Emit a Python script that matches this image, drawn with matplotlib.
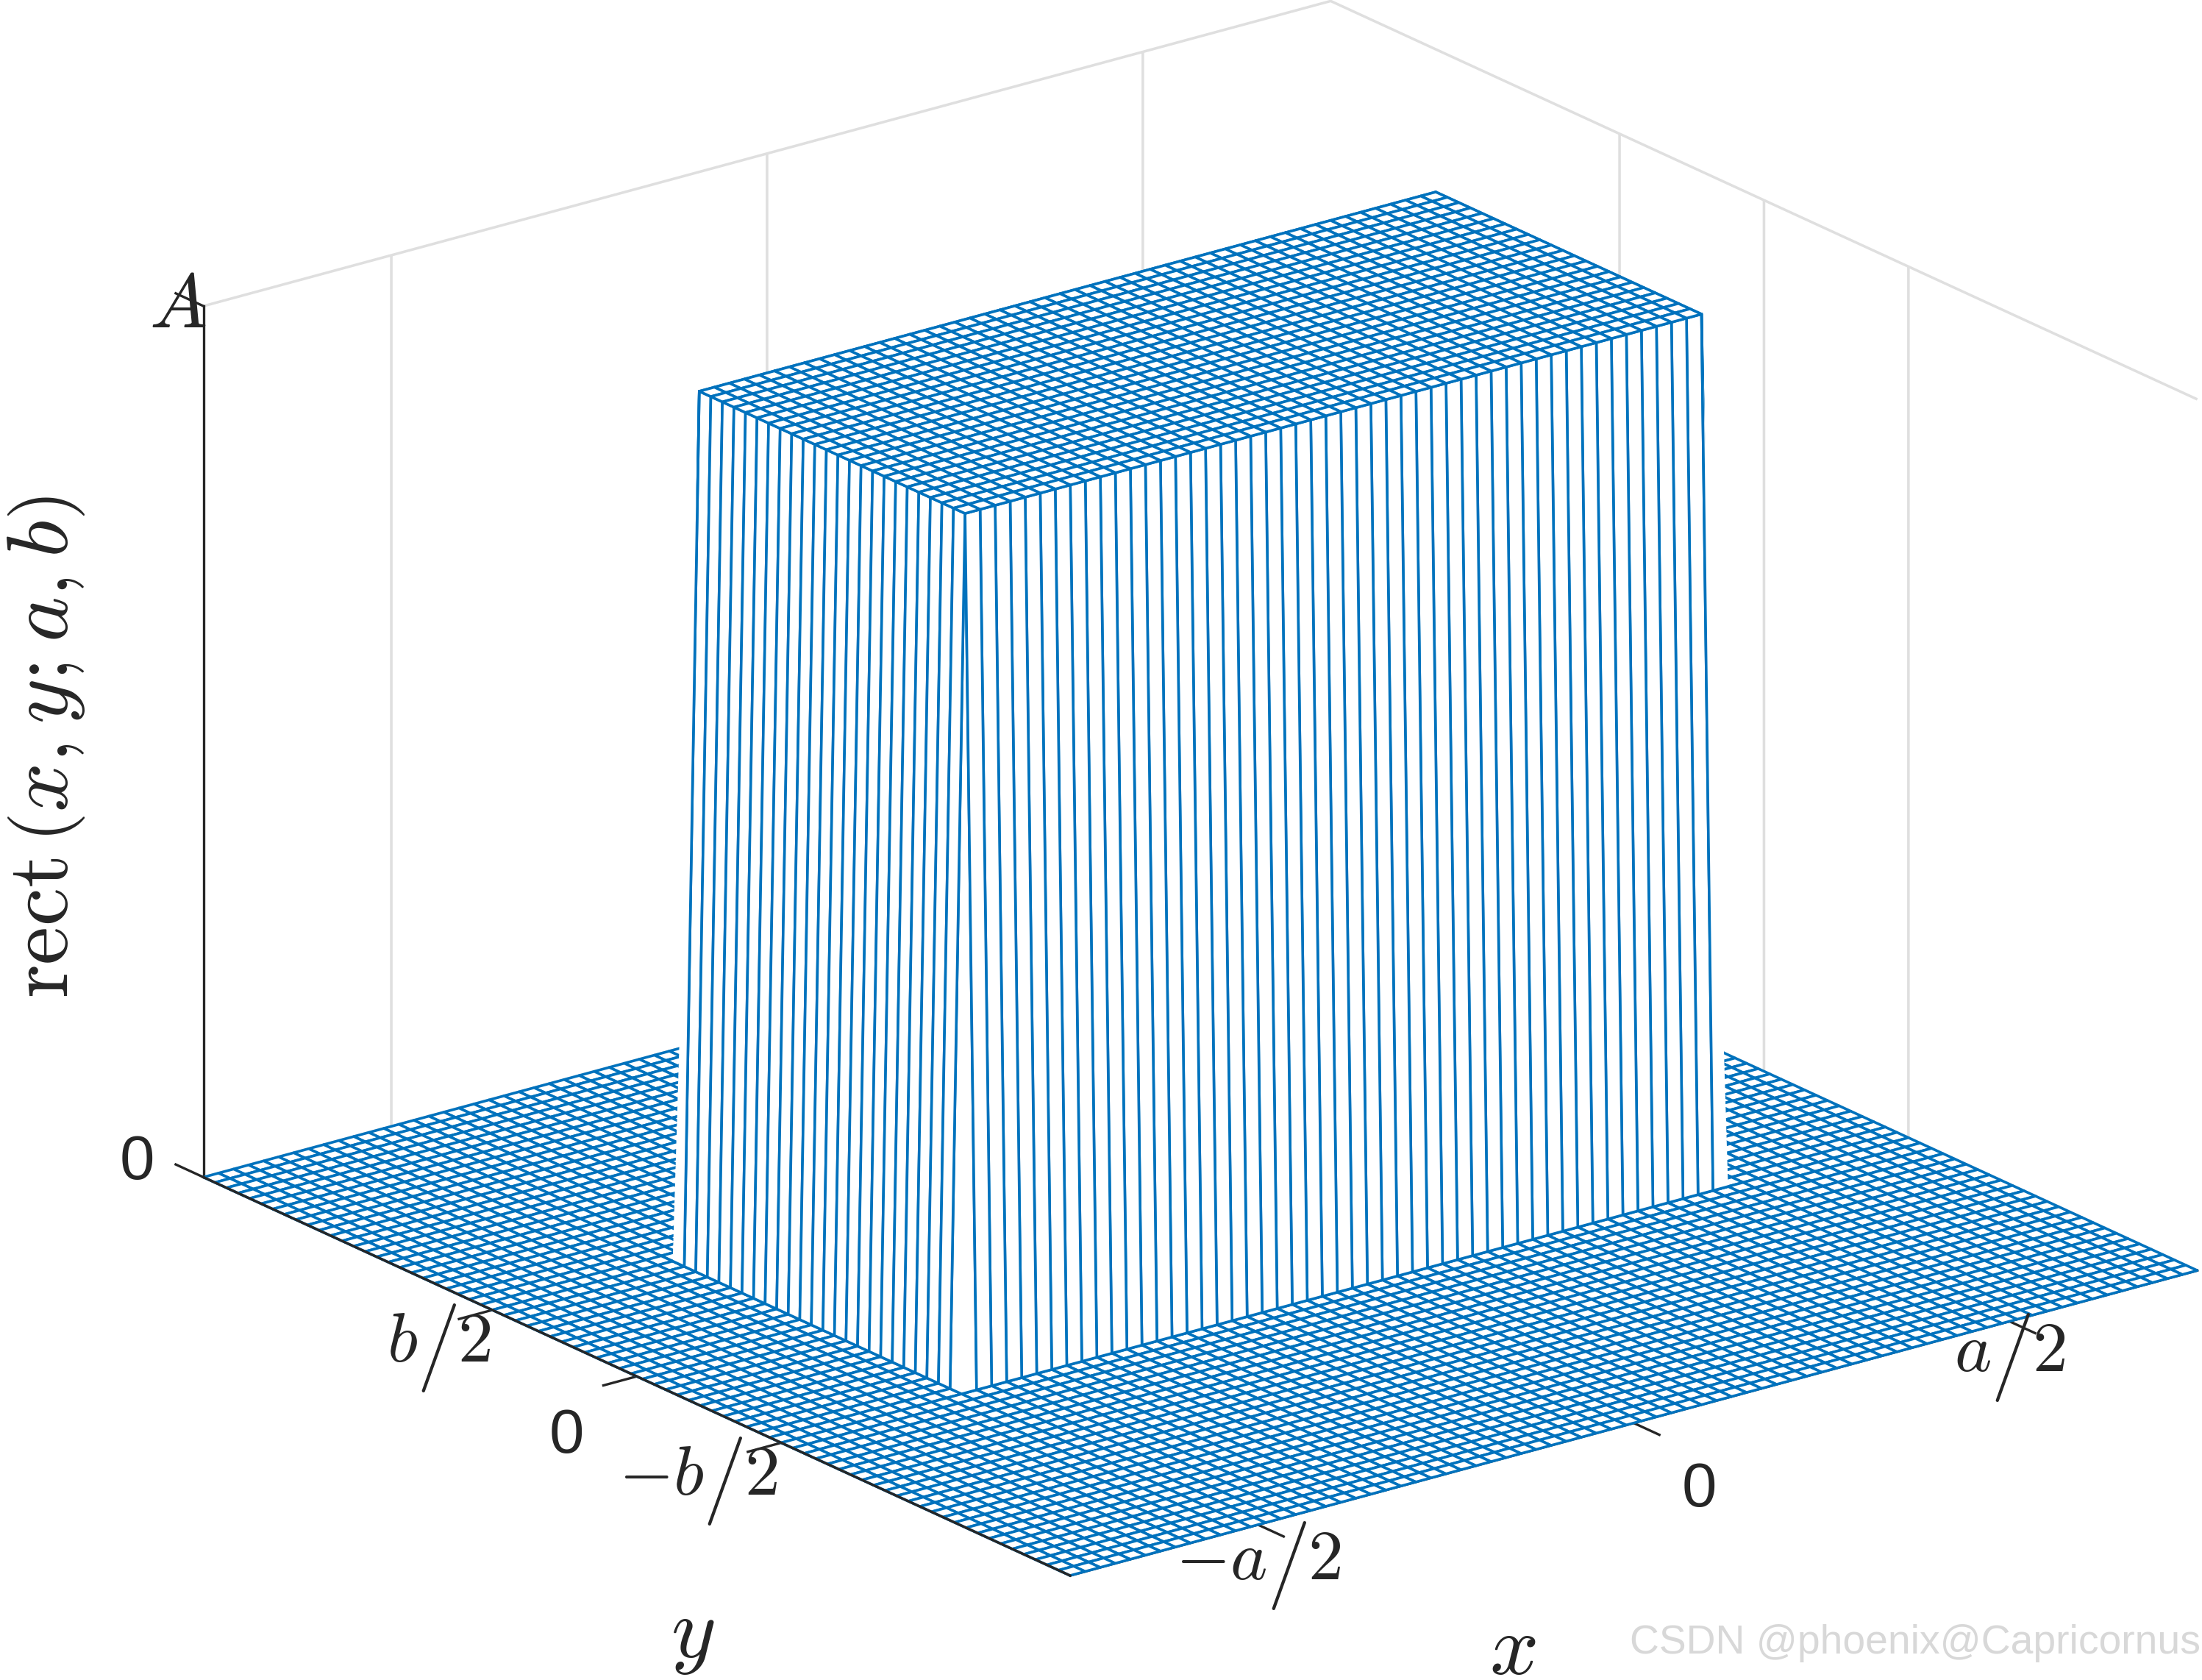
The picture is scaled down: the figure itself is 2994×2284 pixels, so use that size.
import numpy as np
import matplotlib
matplotlib.use('Agg')
import matplotlib.pyplot as plt
from mpl_toolkits.mplot3d import proj3d
from mpl_toolkits.mplot3d.art3d import Poly3DCollection

W, H, DPI = 2994, 2284, 300
INK = '#262626'
BLUE = '#0072BD'
GRID = '#dfdfdf'
MESH_LW = 0.86

plt.rcParams.update({
    'mathtext.fontset': 'cm',
    'font.family': ['Liberation Sans', 'DejaVu Sans'],
    'axes.linewidth': 0.8,
    'xtick.major.width': 0.8, 'ytick.major.width': 0.8,
    'xtick.color': INK, 'ytick.color': INK, 'axes.edgecolor': INK,
    'grid.color': GRID, 'grid.linewidth': 0.85,
})

# mesh levels (rows / columns at 0 or A)
x_min, x_max = -0.75, 0.75
y_min, y_max = -1.5, 1.5
z_min, z_max = 0.0, 1.0
x_profile = [0] * 13 + [1] * 50 + [0] * 13
y_profile = [0] * 26 + [1] * 24 + [0] * 26

x_ticks = [-0.5, 0.0, 0.5]
y_ticks = [-0.5, 0.0, 0.5]
z_ticks = [0.0, 1.0]
ROWS = r'\substack{\ \\\ \\\ \\\ \\\ }'
SLASH = r'\left/\genfrac{}{}{0}{0}{' + ROWS + '}{' + ROWS + r'}\right.\hspace{-0.5}'
x_labels = ['$-a' + SLASH + '2$', '0', '$a' + SLASH + '2$']
y_labels = ['$-b' + SLASH + '2$', '0', '$b' + SLASH + '2$']
z_labels = ['0', '$A$']

# label offsets from the tick root, in pixels (right, down)
x_off = [(0, 56), (89, 91), (0, 49)]
y_off = [(-113, 52), (-95, 82), (-73, 52)]
z_off = [(-90, -19), (-35, 2)]

fig = plt.figure(figsize=(W / DPI, H / DPI), dpi=DPI, facecolor='white')
S = 3400
ax = fig.add_axes([0, 0, S / W, S / H], projection='3d', proj_type='ortho')
ax.view_init(elev=20.65, azim=-127.5)
ax.computed_zorder = False
ax.patch.set_visible(False)
BOX = (1012, 1014, 663)
ax.set_box_aspect(BOX)

x = np.linspace(x_min, x_max, len(x_profile))
y = np.linspace(y_min, y_max, len(y_profile))
X, Y = np.meshgrid(x, y)
Z = z_max * np.outer(y_profile, x_profile)
ax.plot_surface(X, Y, Z, rstride=1, cstride=1, color='white', edgecolor=BLUE,
                linewidth=MESH_LW, shade=False, antialiased=True, zorder=1)

# the mesh fills each corner facet of the block over its whole outline
rows = np.flatnonzero(y_profile)
cols = np.flatnonzero(x_profile)
for ci, ro, cn, rn in ((cols[-1], rows[0], cols[-1] + 1, rows[0] - 1),
                       (cols[0], rows[-1], cols[0] - 1, rows[-1] + 1)):
    if ci == cols[-1]:
        near = (x[ci], y[rn], 0.0)
    else:
        near = (x[cn], y[ro], 0.0)
    top = (x[ci], y[ro], z_max)
    far = (x[cn], y[rn], 0.0)
    ax.add_collection3d(Poly3DCollection([[top, near, far]], facecolors='white',
                                         edgecolors='none', zorder=2))
    ax.plot(*zip(top, near, far), color=BLUE, lw=MESH_LW, zorder=3)

ax.plot([x_min, x_min], [y_min, y_max], [z_min, z_min], color=INK, lw=0.8, zorder=4)

ax.set_xlim(x_min, x_max)
ax.set_ylim(y_min, y_max)
ax.set_zlim(z_min, z_max)
ax.set_xticks(x_ticks, [''] * len(x_ticks))
ax.set_yticks(y_ticks, [''] * len(y_ticks))
ax.set_zticks(z_ticks, [''] * len(z_ticks))
for axis in (ax.xaxis, ax.yaxis, ax.zaxis):
    axis.set_pane_color((1, 1, 1, 0))
    axis.pane.set_edgecolor((1, 1, 1, 0))
    axis.line.set_color(INK)
    axis.line.set_linewidth(0.8)
    axis._axinfo['tick']['inward_factor'] = 0.37
    axis._axinfo['tick']['outward_factor'] = 0.0
    axis._axinfo['grid']['color'] = GRID
    axis._axinfo['grid']['linewidth'] = 0.85
# z ticks run along y in the reference, which the native z axis cannot do here
ax.zaxis._axinfo['tick']['inward_factor'] = 0.0
z_tick_len = 0.032 * (y_max - y_min)
for v in z_ticks:
    ax.plot([x_min, x_min], [y_max, y_max + z_tick_len], [v, v], color=INK, lw=0.8, zorder=4)
ax.set_xlim(x_min, x_max)
ax.set_ylim(y_min, y_max)
ax.set_zlim(z_min, z_max)


def to_px(px, py, pz):
    xs, ys, _ = proj3d.proj_transform(px, py, pz, ax.get_proj())
    return ax.transData.transform((xs, ys))


# fit the axes box on the corners of the reference
ax.apply_aspect()
span = to_px(x_max, y_min, 0)[0] - to_px(x_min, y_max, 0)[0]
ax.set_box_aspect(BOX, zoom=2711 / span)
ax.apply_aspect()
now = to_px(x_min, y_min, 0)
dx, dy = 1455 - now[0], (H - 2142) - now[1]
ax.set_position([dx / W, dy / H, S / W, S / H])
ax.apply_aspect()


def put(px_pos, off, label, fs):
    fig.text((px_pos[0] + off[0]) / W, (px_pos[1] - off[1]) / H, label,
             ha='center', va='center', color=INK, fontsize=fs)


TICK_FS = 20.5
MATH_FS = 23
for v, off, lab in zip(x_ticks, x_off, x_labels):
    put(to_px(v, y_min, 0), off, lab, MATH_FS if lab != '0' else TICK_FS)
for v, off, lab in zip(y_ticks, y_off, y_labels):
    put(to_px(x_min, v, 0), off, lab, MATH_FS if lab != '0' else TICK_FS)
for v, off, lab in zip(z_ticks, z_off, z_labels):
    put(to_px(x_min, y_max, v), off, lab, MATH_FS + 2 if lab != '0' else TICK_FS)

fig.text(1077 * 1.9094 / W, 1 - 1176 * 1.9094 / H, '$x$', fontsize=28, color=INK, ha='center', va='center')
fig.text(493 * 1.9094 / W, 1 - 1165 * 1.9094 / H, '$y$', fontsize=28, color=INK, ha='center', va='center')
fig.text(33 * 1.9094 / W, 1 - 532 * 1.9094 / H, r'$\mathrm{rect}\,\left(x,y;a,b\right)$',
         fontsize=28.2, color=INK, rotation=90, ha='center', va='center')
fig.text(2992 / W, 1 - 2234 / H, 'CSDN @phoenix@Capricornus', fontsize=13.27,
         color='#d8d8d8', ha='right', va='center')

fig.savefig('out.png', dpi=DPI)
